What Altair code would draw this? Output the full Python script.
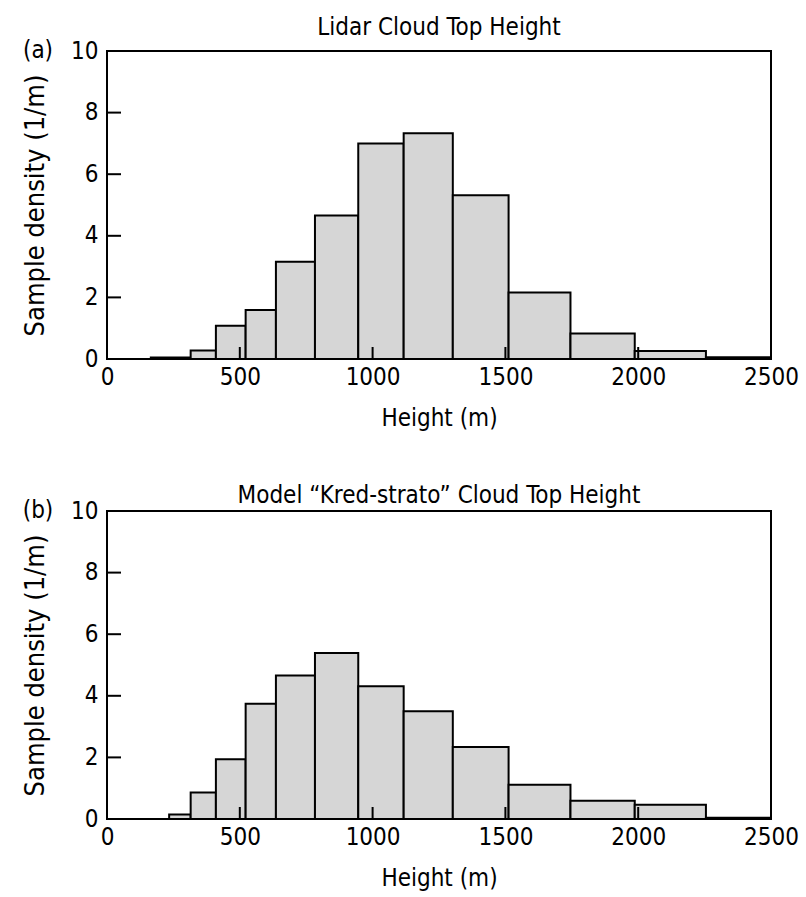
import altair as alt
import pandas as pd

# bin edges (m) and sample densities (1/m)
edges_a = [165, 315, 410, 522, 636, 783, 946, 1117, 1302, 1512, 1745, 1987, 2255, 2500]
dens_a = [0.05, 0.28, 1.08, 1.59, 3.16, 4.66, 7.00, 7.33, 5.32, 2.16, 0.83, 0.26, 0.06]
edges_b = [234, 315, 410, 522, 636, 783, 946, 1117, 1302, 1512, 1745, 1987, 2255, 2500]
dens_b = [0.15, 0.86, 1.94, 3.74, 4.66, 5.39, 4.31, 3.50, 2.34, 1.11, 0.59, 0.46, 0.04]

x_ticks = [0, 500, 1000, 1500, 2000, 2500]
y_ticks = [0, 2, 4, 6, 8, 10]
inner_x_ticks = [500, 1000, 1500, 2000]
inner_y_ticks = [2, 4, 6, 8]
titles = ["Lidar Cloud Top Height", "Model \u201cKred-strato\u201d Cloud Top Height"]
letters = ["(a)", "(b)"]

FONT = "'Liberation Sans Narrow', 'Arial Narrow', 'DejaVu Sans Condensed', 'Liberation Sans', sans-serif"
W, H = 664, 308

xs = alt.Scale(domain=[0, 2500], nice=False, zero=False)
ys = alt.Scale(domain=[0, 10], nice=False)
x_axis = alt.Axis(values=x_ticks, title="Height (m)", format="d", labelFlush=False)
y_axis = alt.Axis(values=y_ticks, title="Sample density (1/m)", format="d", labelFlush=False)


def panel(edges, dens, title, letter, title_offset):
    df = pd.DataFrame({"x0": edges[:-1], "x1": edges[1:], "d": dens})
    bars = alt.Chart(df).mark_rect(
        fill="#d6d6d6", stroke="black", strokeWidth=2, strokeJoin="miter"
    ).encode(
        x=alt.X("x0:Q", scale=xs, axis=x_axis),
        x2="x1:Q",
        y=alt.Y("d:Q", scale=ys, axis=y_axis),
        y2=alt.datum(0),
    )
    xt = alt.Chart(pd.DataFrame({"t": inner_x_ticks})).mark_rule(
        color="black", strokeWidth=2
    ).encode(x=alt.X("t:Q", scale=xs, axis=x_axis), y=alt.value(H), y2=alt.value(H - 12))
    yt = alt.Chart(pd.DataFrame({"t": inner_y_ticks})).mark_rule(
        color="black", strokeWidth=2
    ).encode(y=alt.Y("t:Q", scale=ys, axis=y_axis), x=alt.value(0), x2=alt.value(14))
    lt = alt.Chart(pd.DataFrame({"l": [letter]})).mark_text(
        font=FONT, fontSize=24, align="center", baseline="middle", color="black"
    ).encode(text="l:N", x=alt.value(-69), y=alt.value(0))
    return alt.layer(bars, xt, yt, lt).properties(
        width=W, height=H,
        title=alt.TitleParams(title, font=FONT, fontSize=24, fontWeight="normal",
                              color="black", offset=title_offset, anchor="middle"),
    )


chart = alt.vconcat(
    panel(edges_a, dens_a, titles[0], letters[0], -1),
    panel(edges_b, dens_b, titles[1], letters[1], -9),
    spacing=52,
).properties(
    padding={"left": 20, "top": 15, "right": 5, "bottom": 5}
).configure_view(
    stroke="black", strokeWidth=2
).configure_axis(
    domain=False, ticks=False, grid=False,
    labelFont=FONT, labelFontSize=24, labelColor="black",
    titleFont=FONT, titleFontWeight="normal", titleColor="black",
).configure_axisX(
    labelPadding=6, titlePadding=17, titleFontSize=24
).configure_axisY(
    labelPadding=9, titlePadding=21, titleFontSize=27
)

chart.save("out.html", embed_options={"renderer": "svg", "actions": False})
